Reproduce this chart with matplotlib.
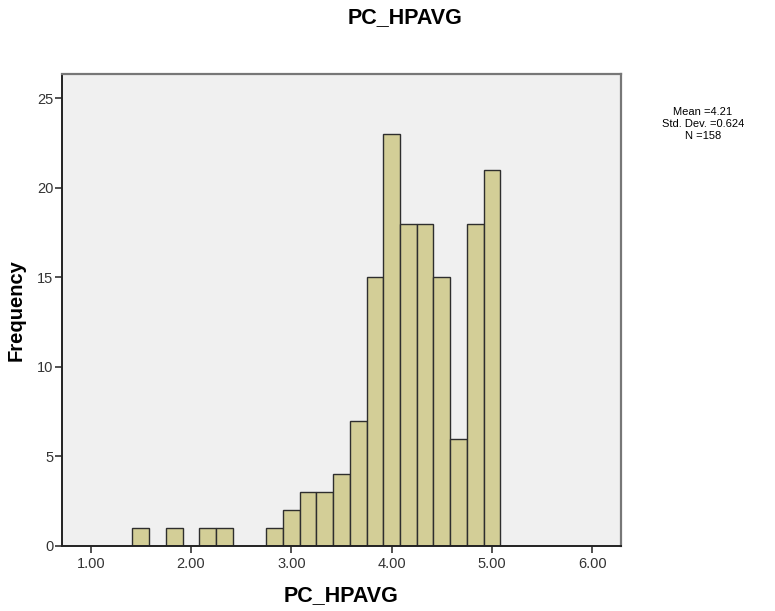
import matplotlib.pyplot as plt
import numpy as np

plt.rcParams['font.family'] = ['Liberation Sans', 'DejaVu Sans']

# histogram bins (centres are multiples of 1/6, width 1/6)
bin_centers = [1.5, 1.8333, 2.1667, 2.3333, 2.8333, 3.0, 3.1667, 3.3333, 3.5,
               3.6667, 3.8333, 4.0, 4.1667, 4.3333, 4.5, 4.6667, 4.8333, 5.0]
counts = [1, 1, 1, 1, 1, 2, 3, 3, 4, 7, 15, 23, 18, 18, 15, 6, 18, 21]
bin_width = 1 / 6
x_ticks = [1, 2, 3, 4, 5, 6]
y_ticks = [0, 5, 10, 15, 20, 25]
stats = ["Mean =4.21", "Std. Dev. =0.624", "N =158"]

fig = plt.figure(figsize=(7.75, 6.11), dpi=100)
ax = fig.add_axes([0.0804, 0.1064, 0.7206, 0.772])
ax.set_facecolor('#f0f0f0')

ax.bar(bin_centers, counts, width=bin_width, color='#d3ce97',
       edgecolor='#2e2e2e', linewidth=1.0)

ax.set_xlim(0.717, 6.285)
ax.set_ylim(0, 26.35)
ax.set_xticks(x_ticks)
ax.set_xticklabels(['%.2f' % v for v in x_ticks])
ax.set_yticks(y_ticks)
ax.tick_params(direction='out', length=5, width=1.2, colors='#333333',
               labelsize=10.5, pad=1.5)
ax.tick_params(axis='x', pad=3)

for s in ['left', 'bottom']:
    ax.spines[s].set_color('#222222')
    ax.spines[s].set_linewidth(1.4)
for s in ['top', 'right']:
    ax.spines[s].set_color('#777777')
    ax.spines[s].set_linewidth(1.6)

ax.set_xlabel('PC_HPAVG', fontsize=15.5, fontweight='bold', labelpad=10)
ax.set_ylabel('Frequency', fontsize=14.5, fontweight='bold', labelpad=8)

fig.text(405 / 775, 1 - 18 / 611, 'PC_HPAVG', ha='center', va='center',
         fontsize=15.5, fontweight='bold')

for i, line in enumerate(stats):
    fig.text(703 / 775, 1 - (112 + 12 * i) / 611, line, ha='center',
             va='center', fontsize=8)

fig.savefig('out.png', dpi=100)
